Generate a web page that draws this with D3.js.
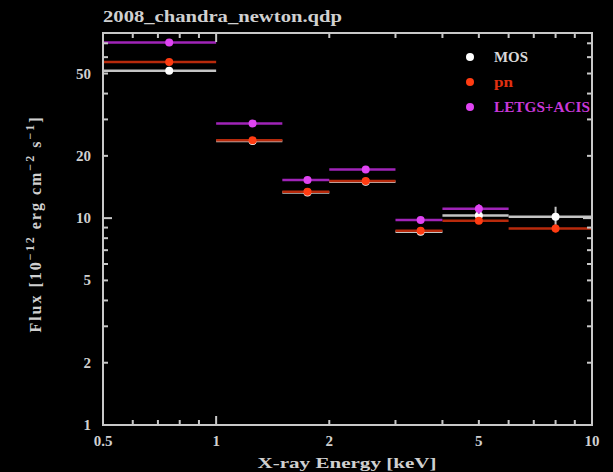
<!DOCTYPE html>
<html>
<head>
<meta charset="utf-8">
<script src="https://cdn.jsdelivr.net/npm/d3@7"></script>
<style>
  html, body { margin: 0; padding: 0; background: #000; }
  svg { display: block; }
</style>
</head>
<body>
<svg id="chart" width="613" height="472"></svg>
<script>
// Energy bins (keV)
const binLo = [0.5, 1, 1.5, 2, 3, 4, 6];
const binHi = [1, 1.5, 2, 3, 4, 6, 10];
const binCenter = [0.75, 1.25, 1.75, 2.5, 3.5, 5, 8];

// Fluxes in units of 1e-12 erg cm^-2 s^-1
const mosFlux = [51.5, 23.6, 13.3, 15.0, 8.6, 10.3, 10.15];
const mosErr = [0.8, 0.4, 0.3, 0.3, 0.2, 0.4, 1.2];
const pnFlux = [56.9, 23.8, 13.4, 15.1, 8.7, 9.7, 8.9];
const pnErr = [0.8, 0.4, 0.3, 0.3, 0.2, 0.3, 0.4];
const letgsFlux = [70.6, 28.7, 15.3, 17.2, 9.8, 11.1];
const letgsErr = [0.9, 0.5, 0.4, 0.5, 0.3, 0.6];

const seriesNames = ["MOS", "pn", "LETGS+ACIS"];

const xTickLabels = [0.5, 1, 2, 5, 10];
const yTickLabels = [1, 2, 5, 10, 20, 50];

const svg = d3.select("#chart");
const margin = { left: 103, right: 592, top: 33, bottom: 425 };

const x = d3.scaleLog().domain([0.5, 10]).range([margin.left, margin.right]);
const y = d3.scaleLog().domain([1, 78.5]).range([margin.bottom, margin.top]);

const axisColor = "#c8c8c8";
const textColor = "#d0d0d0";
const font = "'Liberation Serif', 'DejaVu Serif', serif";

const series = [
  { name: seriesNames[0], flux: mosFlux, err: mosErr, line: "#c4c4c4", dot: "#ffffff", text: "#d8d8d8", len: 34 },
  { name: seriesNames[1], flux: pnFlux, err: pnErr, line: "#b82a0c", dot: "#ff3c12", text: "#e03010", len: 19 },
  { name: seriesNames[2], flux: letgsFlux, err: letgsErr, line: "#a024b8", dot: "#e044f2", text: "#c838d8", len: 96 }
];

// Data: horizontal bin widths, vertical error bars, markers
series.forEach(s => {
  const g = svg.append("g");
  const rows = s.flux.map((v, i) => ({ lo: binLo[i], hi: binHi[i], c: binCenter[i], v, e: s.err[i] }));
  g.selectAll("line.h").data(rows).join("line")
    .attr("x1", d => x(d.lo)).attr("x2", d => x(d.hi))
    .attr("y1", d => y(d.v)).attr("y2", d => y(d.v))
    .attr("stroke", s.line).attr("stroke-width", 2.5);
  g.selectAll("line.v").data(rows).join("line")
    .attr("x1", d => x(d.c)).attr("x2", d => x(d.c))
    .attr("y1", d => y(d.v - d.e)).attr("y2", d => y(d.v + d.e))
    .attr("stroke", s.line).attr("stroke-width", 2);
  g.selectAll("circle").data(rows).join("circle")
    .attr("cx", d => x(d.c)).attr("cy", d => y(d.v))
    .attr("r", 4).attr("fill", s.dot);
});

// Frame
svg.append("rect")
  .attr("x", margin.left).attr("y", margin.top)
  .attr("width", margin.right - margin.left).attr("height", margin.bottom - margin.top)
  .attr("fill", "none").attr("stroke", axisColor).attr("stroke-width", 2);

// Inward ticks on all four sides
const xMinor = [0.6, 0.7, 0.8, 0.9, 2, 3, 4, 5, 6, 7, 8, 9];
const xMajor = [1];
const yMinor = [2, 3, 4, 5, 6, 7, 8, 9, 20, 30, 40, 50, 60, 70];
const yMajor = [10];

const tg = svg.append("g").attr("stroke", axisColor).attr("stroke-width", 2);
function xTicks(vals, len) {
  vals.forEach(v => {
    tg.append("line").attr("x1", x(v)).attr("x2", x(v)).attr("y1", margin.bottom).attr("y2", margin.bottom - len);
    tg.append("line").attr("x1", x(v)).attr("x2", x(v)).attr("y1", margin.top).attr("y2", margin.top + len);
  });
}
function yTicks(vals, len) {
  vals.forEach(v => {
    tg.append("line").attr("y1", y(v)).attr("y2", y(v)).attr("x1", margin.left).attr("x2", margin.left + len);
    tg.append("line").attr("y1", y(v)).attr("y2", y(v)).attr("x1", margin.right).attr("x2", margin.right - len);
  });
}
xTicks(xMinor, 5); xTicks(xMajor, 9);
yTicks(yMinor, 5); yTicks(yMajor, 9);

// Tick labels
svg.append("g").selectAll("text").data(xTickLabels).join("text")
  .attr("x", d => x(d)).attr("y", 446)
  .attr("text-anchor", "middle")
  .attr("font-family", font).attr("font-size", 15).attr("font-weight", "bold")
  .attr("fill", textColor)
  .text(d => d);

svg.append("g").selectAll("text").data(yTickLabels).join("text")
  .attr("x", 91).attr("y", d => y(d) + 5)
  .attr("text-anchor", "end")
  .attr("font-family", font).attr("font-size", 15).attr("font-weight", "bold")
  .attr("fill", textColor)
  .text(d => d);

// Title
svg.append("text")
  .attr("x", 103).attr("y", 22)
  .attr("font-family", font).attr("font-size", 16).attr("font-weight", "bold")
  .attr("fill", textColor)
  .attr("textLength", 239).attr("lengthAdjust", "spacingAndGlyphs")
  .text("2008_chandra_newton.qdp");

// Axis titles
svg.append("text")
  .attr("x", 347).attr("y", 468)
  .attr("text-anchor", "middle")
  .attr("font-family", font).attr("font-size", 15).attr("font-weight", "bold")
  .attr("fill", textColor)
  .attr("textLength", 179).attr("lengthAdjust", "spacingAndGlyphs")
  .text("X-ray Energy [keV]");

const yl = svg.append("text")
  .attr("transform", "translate(41,224) rotate(-90)")
  .attr("text-anchor", "middle")
  .attr("font-family", font).attr("font-size", 16).attr("font-weight", "bold")
  .attr("letter-spacing", 2)
  .attr("fill", textColor);
yl.append("tspan").text("Flux [10");
yl.append("tspan").attr("dy", -7).attr("font-size", 12).text("−12");
yl.append("tspan").attr("dy", 7).text(" erg cm");
yl.append("tspan").attr("dy", -7).attr("font-size", 12).text("−2");
yl.append("tspan").attr("dy", 7).text(" s");
yl.append("tspan").attr("dy", -7).attr("font-size", 12).text("−1");
yl.append("tspan").attr("dy", 7).text("]");

// Legend
const lg = svg.append("g");
series.forEach((s, i) => {
  const ly = 57 + i * 25;
  lg.append("circle").attr("cx", 470).attr("cy", ly).attr("r", 4).attr("fill", s.dot);
  lg.append("text").attr("x", 494).attr("y", ly + 5)
    .attr("font-family", font).attr("font-size", 14).attr("font-weight", "bold")
    .attr("textLength", s.len).attr("lengthAdjust", "spacingAndGlyphs")
    .attr("fill", s.text).text(s.name);
});
</script>
</body>
</html>
